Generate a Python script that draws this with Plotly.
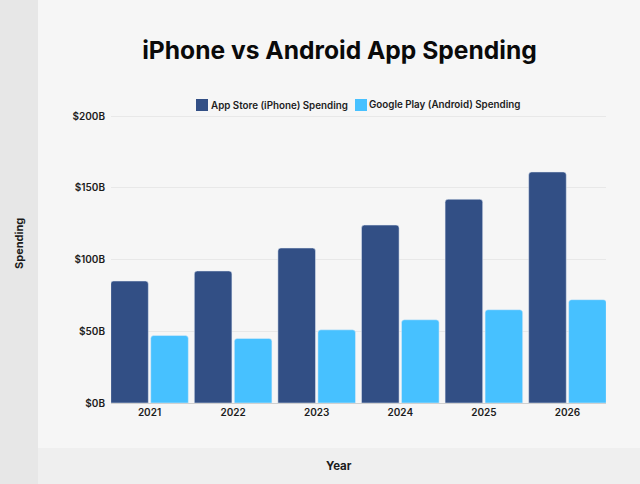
import plotly.graph_objects as go

years = ['2021', '2022', '2023', '2024', '2025', '2026']
app_store = [85, 92, 108, 124, 142, 161]
google_play = [47, 45, 51, 58, 65, 72]
y_ticks = [0, 50, 100, 150, 200]
y_labels = ['$0B', '$50B', '$100B', '$150B', '$200B']

FONT = 'Inter'
TEXT = '#1c1c1c'
BLUE = '#324F85'
LIGHT = '#47C1FF'

# pixel helpers for the page furniture (plot area is 111..606 / 112..403)
def px(x):
    return (x - 111) / 495

def py(y):
    return (403 - y) / 291

fig = go.Figure()
fig.add_trace(go.Bar(x=years, y=app_store, name='App Store (iPhone) Spending',
                     marker=dict(color=BLUE, cornerradius=3)))
fig.add_trace(go.Bar(x=years, y=google_play, name='Google Play (Android) Spending',
                     marker=dict(color=LIGHT, cornerradius=3)))

fig.update_layout(
    width=640, height=484,
    autosize=False,
    margin=dict(l=111, r=34, t=112, b=81),
    paper_bgcolor='#F6F6F6',
    plot_bgcolor='rgba(0,0,0,0)',
    barmode='group',
    bargap=0.043,
    bargroupgap=0.06,
    showlegend=False,
    font=dict(family=FONT, size=10, color=TEXT),
    title=dict(text='<b>iPhone vs Android App Spending</b>',
               x=339.5 / 640, xanchor='center', y=1 - 50 / 484, yanchor='middle',
               font=dict(family=FONT, size=24.6, color='#0a0a0a')),
)

fig.update_xaxes(type='category', range=[-0.461, 5.461], showgrid=False,
                 showline=True, linecolor='#D0D0D0', linewidth=1, ticks='',
                 tickfont=dict(family=FONT, size=10, color=TEXT, weight=600))
fig.update_yaxes(range=[0, 202.8], tickvals=y_ticks, ticktext=y_labels,
                 gridcolor='#E8E8E8', gridwidth=1, zeroline=False, ticks='',
                 ticklabelstandoff=5,
                 tickfont=dict(family=FONT, size=10, color=TEXT, weight=600))

# darker bands behind the axis titles
fig.add_shape(type='rect', xref='paper', yref='paper', layer='below', line_width=0,
              x0=px(0), x1=px(38), y0=py(484), y1=py(0), fillcolor='#E7E7E7')
fig.add_shape(type='rect', xref='paper', yref='paper', layer='below', line_width=0,
              x0=px(38), x1=px(640), y0=py(484), y1=py(448), fillcolor='#EFEFEF')

fig.add_annotation(text='<b>Spending</b>', xref='paper', yref='paper', textangle=-90,
                   x=px(19), y=py(244), xanchor='center', yanchor='middle', showarrow=False,
                   font=dict(family=FONT, size=11, color=TEXT))
fig.add_annotation(text='<b>Year</b>', xref='paper', yref='paper',
                   x=px(339), y=py(466), xanchor='center', yanchor='middle', showarrow=False,
                   font=dict(family=FONT, size=11.5, color=TEXT))

# legend keys sit tighter to their text than the built-in legend allows
for key_x, text_x, color, name in [(196, 211, BLUE, 'App Store (iPhone) Spending'),
                                   (355, 369, LIGHT, 'Google Play (Android) Spending')]:
    fig.add_shape(type='rect', xref='paper', yref='paper', line_width=0, fillcolor=color,
                  x0=px(key_x), x1=px(key_x + 12), y0=py(111), y1=py(99))
    fig.add_annotation(text=name, xref='paper', yref='paper', x=px(text_x), y=py(105),
                       xanchor='left', yanchor='middle', showarrow=False, xshift=-2,
                       font=dict(family=FONT, size=9.8, color=TEXT, weight=600))

fig.write_html('out.html', config={'displayModeBar': False},
               post_script="document.body.style.margin='0';")
